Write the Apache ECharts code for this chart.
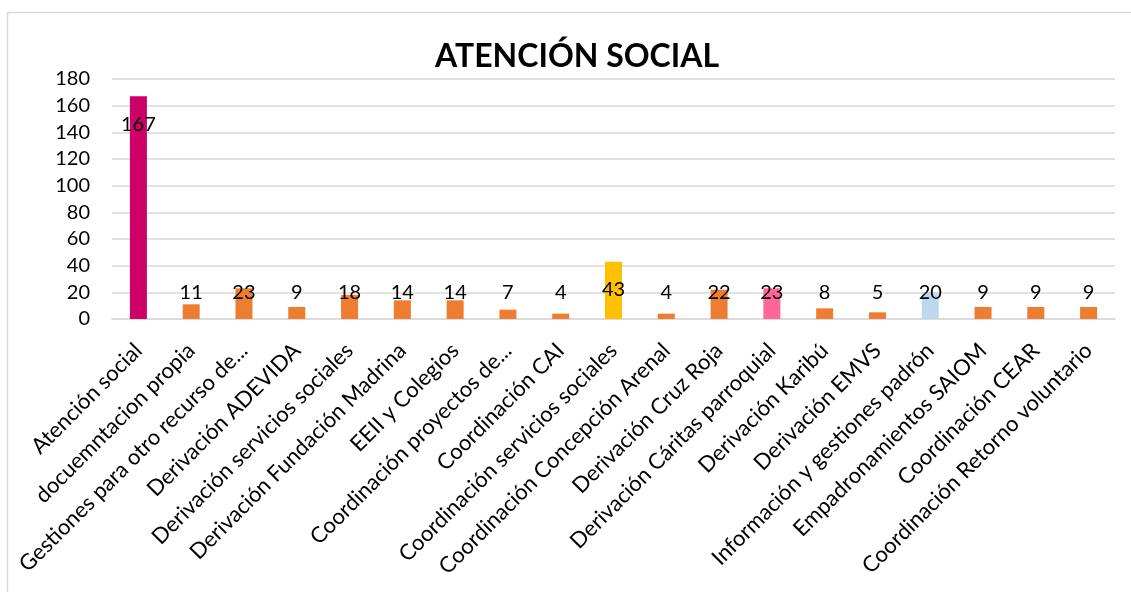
<!DOCTYPE html>
<html><head><meta charset="utf-8">
<script src="https://cdn.jsdelivr.net/npm/echarts@6/dist/echarts.min.js"></script>
<style>html,body{margin:0;padding:0;background:#fff}#c{width:1131px;height:592px}</style>
</head><body><div id="c"></div>
<script>
const categories = ["Atención social","docuemntacion propia","Gestiones para otro recurso de...","Derivación ADEVIDA","Derivación servicios sociales","Derivación Fundación Madrina","EEII y Colegios","Coordinación proyectos de...","Coordinación CAI","Coordinación servicios sociales","Coordinación Concepción Arenal","Derivación Cruz Roja","Derivación Cáritas parroquial","Derivación Karibú","Derivación EMVS","Información y gestiones padrón","Empadronamientos SAIOM","Coordinación CEAR","Coordinación Retorno voluntario"];
const values = [167,11,23,9,18,14,14,7,4,43,4,22,23,8,5,20,9,9,9];
const barColors = ["#CC0066","#ED7D31","#ED7D31","#ED7D31","#ED7D31","#ED7D31","#ED7D31","#ED7D31","#ED7D31","#FFC000","#ED7D31","#ED7D31","#FF6699","#ED7D31","#ED7D31","#BDD7EE","#ED7D31","#ED7D31","#ED7D31"];
const yTicks = {min:0, max:180, interval:20};
const FONT = 'Lato, Carlito, "Noto Sans", sans-serif';

const chart = echarts.init(document.getElementById('c'), null, {renderer:'canvas'});
chart.setOption({
  animation:false,
  backgroundColor:'#fff',
  graphic:[{type:'rect', shape:{x:7.5,y:12.5,width:1130,height:600}, style:{fill:'none',stroke:'#D9D9D9',lineWidth:1.5}, silent:true, z:-10}],
  title:{text:'ATENCIÓN SOCIAL', left:435, top:41, textStyle:{fontFamily:FONT, fontSize:32, fontWeight:'bold', color:'#000'}, padding:0, itemGap:0},
  grid:{left:112, right:16, top:79, bottom:273, containLabel:false},
  xAxis:{type:'category', data:categories,
    axisLine:{lineStyle:{color:'#D9D9D9', width:1.5}}, axisTick:{show:false},
    axisLabel:{interval:0, rotate:45, margin:28, fontFamily:FONT, fontSize:22, color:'#000'}},
  yAxis:{type:'value', min:yTicks.min, max:yTicks.max, interval:yTicks.interval,
    axisLine:{show:false}, axisTick:{show:false},
    splitLine:{lineStyle:{color:'#D9D9D9', width:1.5}},
    axisLabel:{fontFamily:FONT, fontSize:20, color:'#000', margin:22}},
  series:[{type:'bar', barWidth:17,
    data: values.map((v,i)=>({value:v, itemStyle:{color:barColors[i]},
      label: v>30 ? {position:'insideTop', distance:18} : {position:'insideBottom', distance:16}})),
    label:{show:true, fontFamily:FONT, fontSize:20, color:'#000'}
  }]
});
</script></body></html>
